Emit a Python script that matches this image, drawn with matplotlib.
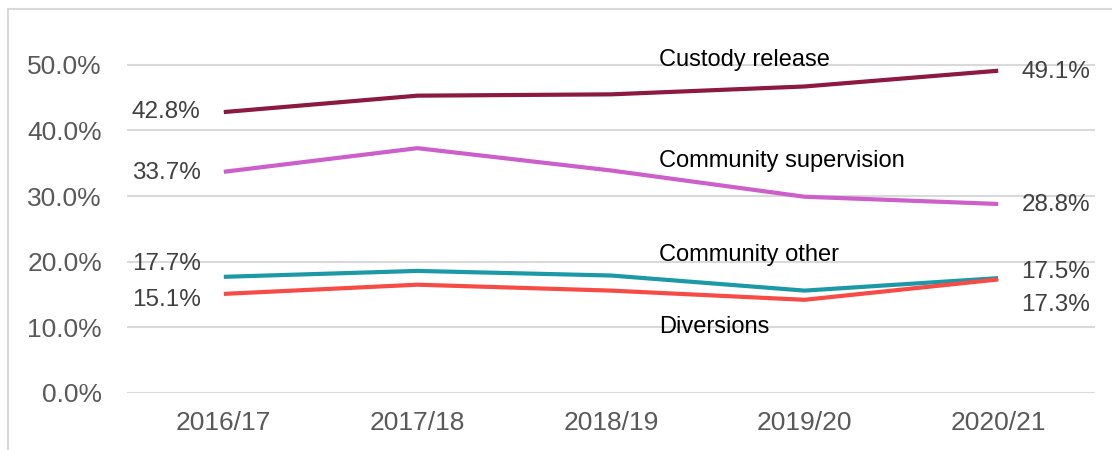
import matplotlib
matplotlib.use("Agg")
import matplotlib.pyplot as plt
from matplotlib.patches import Rectangle
from matplotlib.ticker import PercentFormatter

plt.rcParams['font.family'] = ['Liberation Sans', 'DejaVu Sans']

years = ["2016/17", "2017/18", "2018/19", "2019/20", "2020/21"]
custody_release = [42.8, 45.3, 45.5, 46.7, 49.1]
community_supervision = [33.7, 37.3, 33.9, 29.9, 28.8]
community_other = [17.7, 18.6, 17.9, 15.6, 17.5]
diversions = [15.1, 16.5, 15.6, 14.2, 17.3]

series = [
    ("Custody release", custody_release, "#8B1A3E", 50.7, 48.9, 42.8),
    ("Community supervision", community_supervision, "#CC5FC9", 35.3, 28.6, 33.5),
    ("Community other", community_other, "#1C99A6", 21.1, 18.4, 19.6),
    ("Diversions", diversions, "#F74B45", 10.1, 13.4, 14.2),
]

fig = plt.figure(figsize=(11.12, 4.5), dpi=100)
ax = fig.add_axes([127 / 1112, 1 - 393 / 450, 968 / 1112, 361 / 450])

x = range(len(years))
for name, vals, color, name_y, right_y, left_y in series:
    ax.plot(x, vals, color=color, lw=3, solid_capstyle="butt", zorder=3)
    ax.text(2.25, name_y, name, fontsize=17, color="black", va="center", ha="left")
    ax.text(-0.12, left_y, f"{vals[0]:.1f}%", fontsize=17.5, color="#404040",
            va="center", ha="right")
    ax.text(4.12, right_y, f"{vals[-1]:.1f}%", fontsize=17.5, color="#404040",
            va="center", ha="left")

ax.set_xlim(-0.5, 4.5)
ax.set_ylim(0, 55)
ax.set_yticks([0, 10, 20, 30, 40, 50])
ax.yaxis.set_major_formatter(PercentFormatter(decimals=1))
ax.set_xticks(list(x))
ax.set_xticklabels(years)
ax.tick_params(axis="both", length=0, labelcolor="#595959")
ax.tick_params(axis="y", labelsize=19, pad=18)
ax.tick_params(axis="x", labelsize=19, pad=13)
ax.grid(axis="y", color="#D9D9D9", lw=1.5)
ax.set_axisbelow(True)
for s in ax.spines.values():
    s.set_visible(False)

fig.patches.append(Rectangle((8 / 1112, -0.5), 2, 0.5 + 1 - 9 / 450,
                             transform=fig.transFigure, fill=False,
                             edgecolor="#D9D9D9", lw=1.5))

fig.savefig("out.png", dpi=100)
